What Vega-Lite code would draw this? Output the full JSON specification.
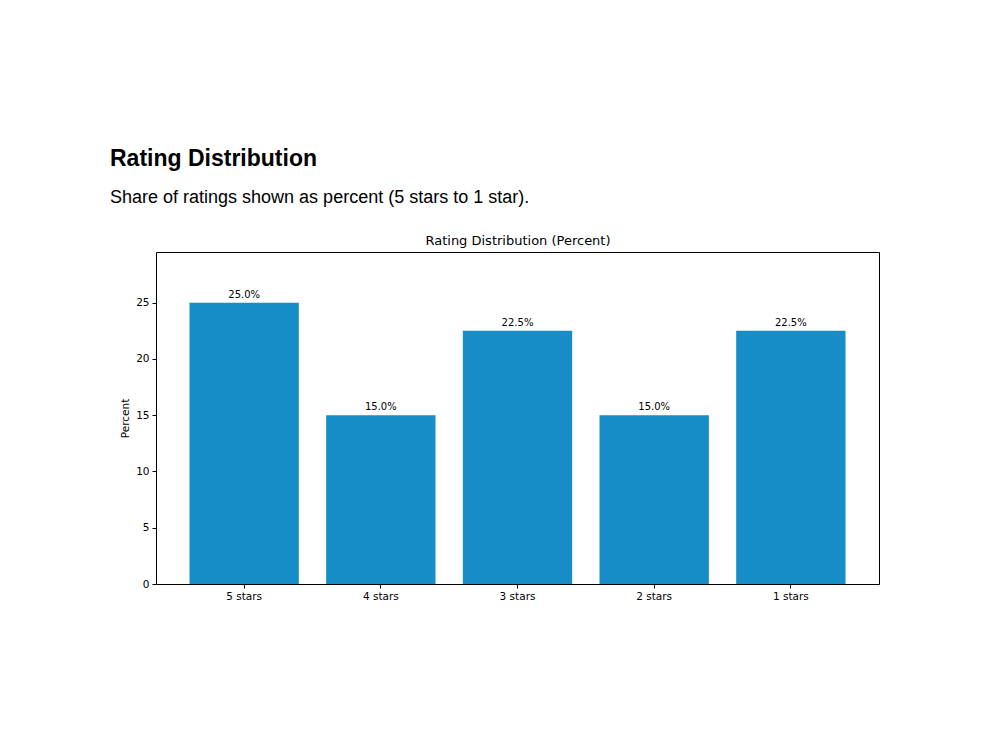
{
  "$schema": "https://vega.github.io/schema/vega-lite/v6.json",
  "autosize": {"type": "none"},
  "width": 723,
  "height": 332,
  "padding": {"left": 156, "top": 252, "right": 121, "bottom": 166},
  "background": "white",
  "title": {
    "text": "Rating Distribution",
    "subtitle": "Share of ratings shown as percent (5 stars to 1 star).",
    "anchor": "start",
    "frame": "group",
    "dx": -46,
    "offset": 27,
    "font": "Liberation Sans",
    "fontSize": 23,
    "fontWeight": "bold",
    "color": "black",
    "subtitleFont": "Liberation Sans",
    "subtitleFontSize": 18,
    "subtitleColor": "black",
    "subtitlePadding": 18
  },
  "data": {
    "values": [
      {"rating": "5 stars", "percent": 25.0, "label": "25.0%"},
      {"rating": "4 stars", "percent": 15.0, "label": "15.0%"},
      {"rating": "3 stars", "percent": 22.5, "label": "22.5%"},
      {"rating": "2 stars", "percent": 15.0, "label": "15.0%"},
      {"rating": "1 stars", "percent": 22.5, "label": "22.5%"}
    ]
  },
  "layer": [
    {
      "mark": {"type": "bar", "color": "#168dc6"},
      "encoding": {
        "x": {
          "field": "rating",
          "type": "nominal",
          "sort": null,
          "scale": {"paddingInner": 0.2, "paddingOuter": 0.245},
          "axis": {
            "title": null,
            "labelAngle": 0,
            "labelFont": "DejaVu Sans",
            "labelFontSize": 10.5,
            "labelColor": "black",
            "tickColor": "black",
            "tickSize": 4,
            "labelPadding": 3,
            "domain": false
          }
        },
        "y": {
          "field": "percent",
          "type": "quantitative",
          "scale": {"domain": [0, 29.5], "nice": false},
          "axis": {
            "title": "Percent",
            "titleFont": "DejaVu Sans",
            "titleFontSize": 10.5,
            "titleFontWeight": "normal",
            "titleColor": "black",
            "titlePadding": 5,
            "values": [0, 5, 10, 15, 20, 25],
            "labelFont": "DejaVu Sans",
            "labelFontSize": 10.5,
            "labelColor": "black",
            "tickColor": "black",
            "tickSize": 4,
            "labelPadding": 3,
            "grid": false,
            "domain": false
          }
        }
      }
    },
    {
      "mark": {"type": "text", "baseline": "bottom", "dy": -3, "font": "DejaVu Sans", "fontSize": 10, "color": "black"},
      "encoding": {
        "x": {
          "field": "rating",
          "type": "nominal",
          "sort": null,
          "axis": {
            "orient": "top",
            "title": "Rating Distribution (Percent)",
            "titleFont": "DejaVu Sans",
            "titleFontSize": 13,
            "titleFontWeight": "normal",
            "titleColor": "black",
            "titlePadding": 5,
            "labels": false,
            "ticks": false,
            "domain": false
          }
        },
        "y": {"field": "percent", "type": "quantitative"},
        "text": {"field": "label"}
      }
    }
  ],
  "resolve": {"axis": {"x": "independent"}},
  "config": {
    "view": {"stroke": "black", "strokeWidth": 1}
  }
}
